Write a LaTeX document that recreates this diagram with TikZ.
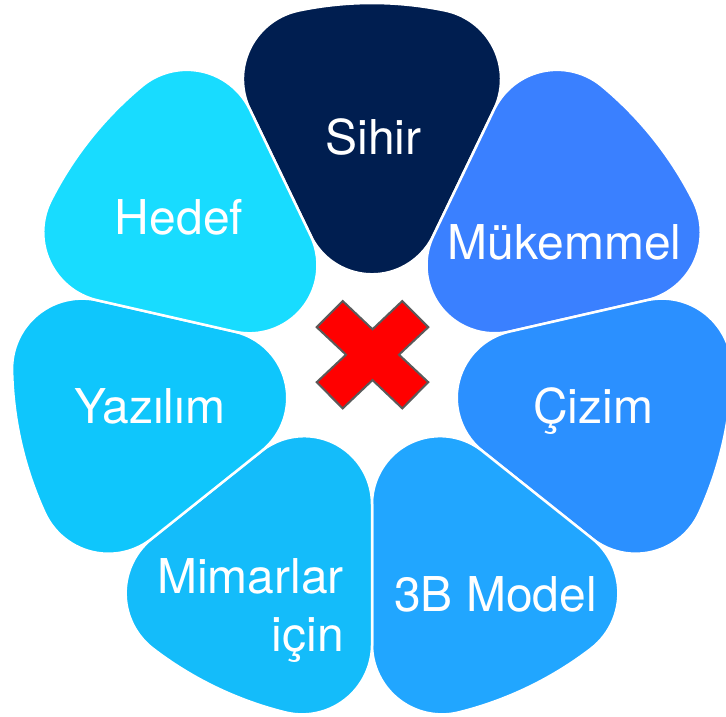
\documentclass[tikz,border=0pt]{standalone}
\usepackage{fontspec}
\setmainfont{TeX Gyre Heros}

\definecolor{cSihir}{HTML}{001E50}
\definecolor{cMukemmel}{HTML}{3A80FF}
\definecolor{cCizim}{HTML}{2B90FF}
\definecolor{cModel}{HTML}{21A6FF}
\definecolor{cMimar}{HTML}{14BCFA}
\definecolor{cYazilim}{HTML}{0FC6FC}
\definecolor{cHedef}{HTML}{18DCFF}
\definecolor{crossRed}{HTML}{FF0000}
\definecolor{crossEdge}{HTML}{5A5A5A}

% One rounded sector petal: #1 = axis angle, #2 = fill colour.
% Sector half angle 25.714, outer radius 360, tip rounding 68, corner rounding 70.
\newcommand\flowerpetal[2]{%
  \path[petal=#2]
    ({#1-25.714}:141.2) -- ({#1-25.714}:281.4)
    arc[start angle={#1-25.714-90}, end angle={#1-25.714+13.968}, radius=70]
    arc[start angle={#1-25.714+13.968}, end angle={#1+25.714-13.968}, radius=360]
    arc[start angle={#1+25.714-13.968}, end angle={#1+25.714+90}, radius=70]
    -- ({#1+25.714}:141.2)
    arc[start angle={#1+25.714+90}, end angle={#1-25.714+270}, radius=68]
    -- cycle;}

\begin{document}
\begin{tikzpicture}[x=1pt,y=1pt,
  petal/.style={fill=#1, draw=white, line width=2.5pt, line join=round},
  lbl/.style={text=white, font=\fontsize{48}{58.3}\selectfont, inner sep=0pt},
  cross/.style={fill=crossRed, draw=crossEdge, line width=2pt, line join=miter}]
\useasboundingbox (0,0) rectangle (726,717);
\clip (0,0) rectangle (726,717);

\begin{scope}[shift={(372,354)}]
  \flowerpetal{90}{cSihir}
  \flowerpetal{38.571}{cMukemmel}
  \flowerpetal{-12.857}{cCizim}
  \flowerpetal{-64.286}{cModel}
  \flowerpetal{-115.714}{cMimar}
  \flowerpetal{-167.143}{cYazilim}
  \flowerpetal{141.429}{cHedef}
\end{scope}

% red cross in the middle
\begin{scope}[shift={(372.5,362.3)}]
  \path[cross] (-55.8,27.5) -- (-29.8,53.7) -- (0,25.4) -- (29.8,53.7)
    -- (55.8,27.5) -- (26.5,0) -- (55.8,-27.5) -- (29.8,-53.7)
    -- (0,-25.4) -- (-29.8,-53.7) -- (-55.8,-27.5) -- (-26.5,0) -- cycle;
\end{scope}

% labels
\node[lbl, anchor=base] (sihir) at (373.5,562.5) {Sihir};
\node[lbl, anchor=base] (mukemmel) at (564.5,457) {Mükemmel};
\node[lbl, anchor=base] (cizim) at (593.3,293.7) {Çizim};
\node[lbl, anchor=base] (model) at (495.5,105) {3B Model};
\node[lbl, anchor=base east, align=right] (mimarlar) at (344,65.3) {Mimarlar\\için};
\node[lbl, anchor=base] (yazilim) at (150,293.7) {Yazılım};
\node[lbl, anchor=base] (hedef) at (179,482) {Hedef};
\end{tikzpicture}
\end{document}
